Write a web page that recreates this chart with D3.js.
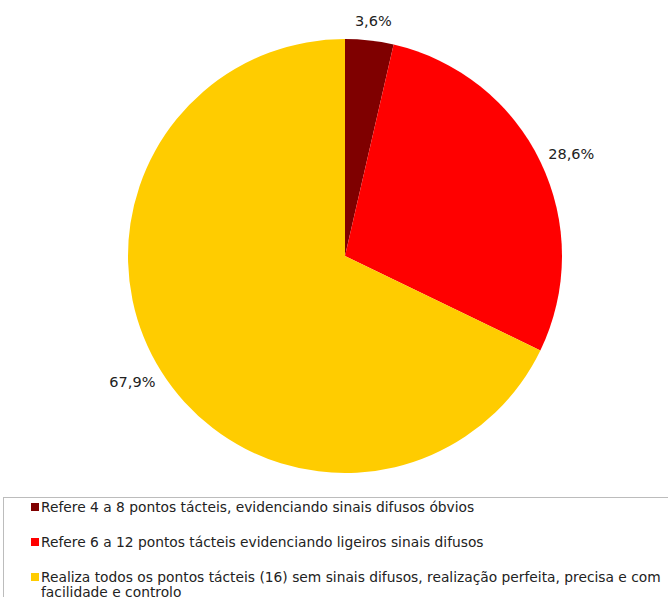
<!DOCTYPE html>
<html><head><meta charset="utf-8">
<script src="https://cdn.jsdelivr.net/npm/d3@7"></script>
<style>body{margin:0;background:#fff}svg{display:block}</style>
</head><body><svg id="c" width="668" height="597"></svg>
<script>
const categories = [
  "Refere 4 a 8 pontos tácteis, evidenciando sinais difusos óbvios",
  "Refere 6 a 12 pontos tácteis evidenciando ligeiros sinais difusos",
  "Realiza todos os pontos tácteis (16) sem sinais difusos, realização perfeita, precisa e com facilidade e controlo"
];
const values = [3.6, 28.6, 67.9];
const valueLabels = ["3,6%", "28,6%", "67,9%"];
const colors = ["#7f0000", "#ff0000", "#ffcc00"];
const legendLines = [
  ["Refere 4 a 8 pontos tácteis, evidenciando sinais difusos óbvios"],
  ["Refere 6 a 12 pontos tácteis evidenciando ligeiros sinais difusos"],
  ["Realiza todos os pontos tácteis (16) sem sinais difusos, realização perfeita, precisa e com", "facilidade e controlo"]
];

const svg = d3.select("#c");
const font = "DejaVu Sans, Verdana, sans-serif";
const cx = 345, cy = 256, R = 217;
const pie = d3.pie().sort(null).value(d => d)(values);
const arc = d3.arc().innerRadius(0).outerRadius(R);
const g = svg.append("g").attr("transform", `translate(${cx},${cy})`);
g.selectAll("path").data(pie).join("path")
  .attr("d", arc).attr("fill", (d, i) => colors[i]);

const lr = 237;
g.selectAll("text.lab").data(pie).join("text").attr("class", "lab")
  .each(function(d, i) {
    const a = (d.startAngle + d.endAngle) / 2;
    const x = Math.sin(a) * lr + Math.sin(a) * 14;
    const y = -Math.cos(a) * lr;
    d3.select(this).attr("x", x).attr("y", y)
      .attr("text-anchor", "middle").attr("dominant-baseline", "central")
      .attr("font-family", font).attr("font-size", 14.5).attr("fill", "#222")
      .text(valueLabels[i]);
  });

// legend
svg.append("rect").attr("x", 3.5).attr("y", 497.5).attr("width", 700).attr("height", 200)
  .attr("fill", "none").attr("stroke", "#bcbcbc");
const rowY = [507, 542, 577];
legendLines.forEach((lines, i) => {
  svg.append("rect").attr("x", 31).attr("y", rowY[i] - 4).attr("width", 8).attr("height", 8).attr("fill", colors[i]);
  const t = svg.append("text").attr("x", 41).attr("y", rowY[i])
    .attr("dominant-baseline", "central").attr("font-family", font).attr("font-size", 13.8).attr("fill", "#222");
  lines.forEach((ln, j) => {
    t.append("tspan").attr("x", 41).attr("dy", j === 0 ? 0 : 14.5).text(ln);
  });
});
</script></body></html>
